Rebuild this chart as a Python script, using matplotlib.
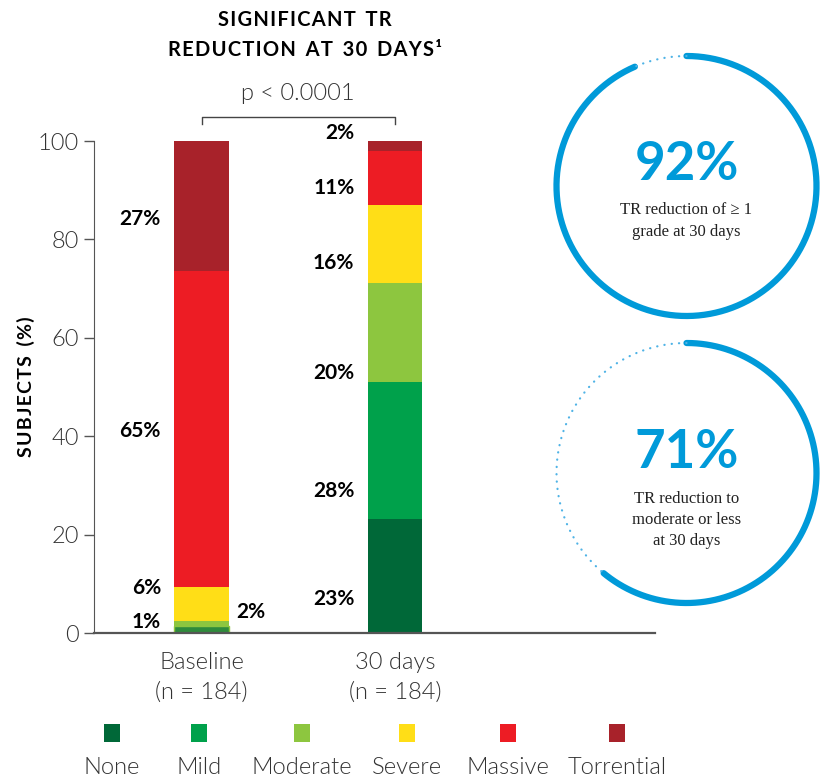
import matplotlib
matplotlib.use("Agg")
import matplotlib.pyplot as plt
import numpy as np
from matplotlib.patches import Rectangle

# ---- data ----
groups = ["Baseline\n(n = 184)", "30 days\n(n = 184)"]
grades = ["None", "Mild", "Moderate", "Severe", "Massive", "Torrential"]
baseline = [1.5, 0.0, 1.0, 6.8, 64.2, 26.9]
day30 = [23.2, 27.8, 20.1, 15.9, 11.0, 2.0]
baseline_labels = ["1%", "", "2%", "6%", "65%", "27%"]
day30_labels = ["23%", "28%", "20%", "16%", "11%", "2%"]
p_text = "p < 0.0001"
stat_values = ["92%", "71%"]
stat_text = ["TR reduction of \u2265 1\ngrade at 30 days",
             "TR reduction to\nmoderate or less\nat 30 days"]
stat_arc = [0.935, 0.61]  # drawn arc fraction

colors = ["#006838", "#00a14b", "#8dc63f", "#ffde17", "#ed1c24", "#a8222a"]
blue = "#009ad9"

# label positions (y in data units)
base_label_y = [2.2, None, 4.3, 9.1, 41.1, 84.1]
base_label_side = ["l", None, "r", "l", "l", "l"]
day_label_y = [6.9, 28.9, 52.8, 75.2, 90.5, 101.6]

SANS = ["Lato", "DejaVu Sans"]
plt.rcParams["font.family"] = SANS
LIGHT = 300


def spaced(s):
    # rough letter spacing with hair spaces
    return "\u200a".join(s)


W, H = 821, 780
fig = plt.figure(figsize=(W / 100, H / 100), dpi=100, facecolor="white")

# overlay in pixel coords for free-floating elements
ov = fig.add_axes([0, 0, 1, 1], zorder=0)
ov.set_xlim(0, W)
ov.set_ylim(H, 0)
ov.axis("off")

ax = fig.add_axes([94 / W, (H - 633) / H, 561 / W, 492 / H], zorder=1)
ax.patch.set_alpha(0)

x = np.arange(len(groups))
width = 0.28
for vals, xi in ((baseline, x[0]), (day30, x[1])):
    bottom = 0
    for v, c in zip(vals, colors):
        if v > 0:
            edge = "none"
            col = c
            if xi == x[0] and c == colors[0]:
                col, edge = "#2f8b3c", colors[2]
            ax.bar(xi, v, width, bottom=bottom, color=col, edgecolor=edge,
                   linewidth=1.0 if edge != "none" else 0)
        bottom += v

lab_kw = dict(fontsize=15, color="black", fontweight="bold", va="center")
for lab, yy, side in zip(baseline_labels, base_label_y, base_label_side):
    if not lab:
        continue
    if side == "l":
        ax.text(x[0] - width / 2 - 0.07, yy, lab, ha="right", **lab_kw)
    else:
        ax.text(x[0] + width / 2 + 0.04, yy, lab, ha="left", **lab_kw)
for lab, yy in zip(day30_labels, day_label_y):
    ax.text(x[1] - width / 2 - 0.07, yy, lab, ha="right", **lab_kw)

ax.set_xlim(-0.556, 2.344)
ax.set_ylim(0, 100)
ax.set_yticks([0, 20, 40, 60, 80, 100])
ax.set_xticks(x)
ax.set_xticklabels(groups, fontsize=17, color="#333333", fontweight=LIGHT,
                   linespacing=1.5)
ax.tick_params(axis="x", length=0, pad=14)
ax.tick_params(axis="y", length=7, width=1, color="#555555", labelsize=17,
               labelcolor="#333333", pad=4)
for t in ax.get_yticklabels():
    t.set_fontweight(LIGHT)
for s in ("top", "right"):
    ax.spines[s].set_visible(False)
ax.spines["left"].set_color("#555555")
ax.spines["bottom"].set_color("#555555")
ax.spines["bottom"].set_linewidth(1.6)
ax.set_ylabel(spaced("SUBJECTS") + "  " + spaced("(%)"), fontsize=14,
              fontweight="bold", labelpad=2)

# p-value bracket
bx0 = ax.transData.transform((x[0], 0))[0]
bx1 = ax.transData.transform((x[1], 0))[0]
ov.plot([bx0, bx0, bx1, bx1], [124, 117, 117, 124], color="#444444", lw=1)
ov.text((bx0 + bx1) / 2, 94, p_text, ha="center", va="center", fontsize=17,
        color="#333333", fontweight=LIGHT)

# title
ov.text(305, 20, spaced("SIGNIFICANT") + "  " + spaced("TR"), ha="center",
        va="center", fontsize=14.5, fontweight="bold")
ov.text(305, 50, "  ".join(spaced(w) for w in ["REDUCTION", "AT", "30", "DAYS\u00b9"]),
        ha="center", va="center", fontsize=14.5, fontweight="bold")

# stat circles
cx, r = 686.5, 130
centers_y = [186, 473]
for cy, big, small, frac in zip(centers_y, stat_values, stat_text, stat_arc):
    t = np.linspace(0, 1, 400)
    th = np.deg2rad(90 - 360 * frac * t)
    ov.plot(cx + r * np.cos(th), cy - r * np.sin(th), color=blue, lw=4.5,
            solid_capstyle="round")
    th2 = np.deg2rad(90 + 360 * (1 - frac) * t)
    ov.plot(cx + r * np.cos(th2), cy - r * np.sin(th2), color="#4fb3e6",
            lw=1.6, linestyle=(0, (0.1, 3.2)), dash_capstyle="round")
    ov.text(cx, cy - 21, big, ha="center", va="center", fontsize=38,
            fontweight="bold", color=blue)
    nl = small.count("\n") + 1
    ov.text(cx, cy + 23 + 12 * (nl - 1), small, ha="center", va="center",
            fontsize=12, family=["Liberation Serif", "DejaVu Serif"],
            linespacing=1.45, color="#222222")

# legend
leg_x = [112, 199, 302, 407, 508, 617]
for lx, name, c in zip(leg_x, grades, colors):
    ov.add_patch(Rectangle((lx - 8, 724), 16, 18, color=c, lw=0))
    ov.text(lx, 768, name, ha="center", va="center", fontsize=17,
            color="#333333", fontweight=LIGHT)

fig.savefig("out.png", dpi=100, facecolor="white")
